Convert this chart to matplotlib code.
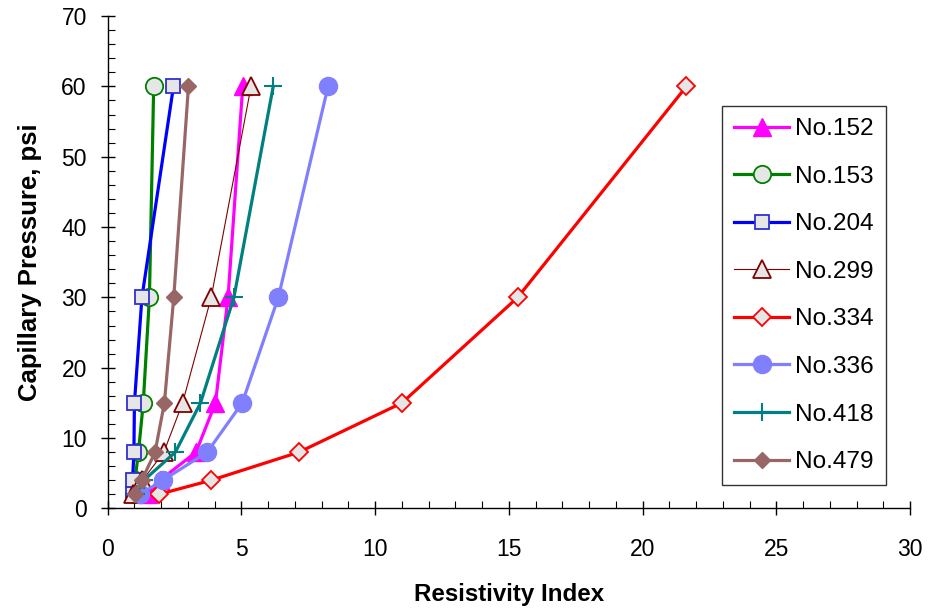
import matplotlib
matplotlib.use("Agg")
import matplotlib.pyplot as plt
from matplotlib.ticker import MultipleLocator

plt.rcParams['font.family'] = ['Liberation Sans', 'DejaVu Sans']

pc = [2, 4, 8, 15, 30, 60]
ri_152 = [1.5, 1.95, 3.3, 4.03, 4.5, 5.05]
ri_153 = [0.98, 1.02, 1.15, 1.33, 1.56, 1.72]
ri_204 = [0.93, 0.93, 0.98, 1.0, 1.28, 2.46]
ri_299 = [0.95, 1.3, 2.1, 2.8, 3.87, 5.36]
ri_334 = [1.9, 3.86, 7.15, 11.0, 15.33, 21.64]
ri_336 = [1.2, 2.06, 3.72, 5.03, 6.38, 8.24]
ri_418 = [1.05, 1.35, 2.53, 3.47, 4.72, 6.19]
ri_479 = [1.02, 1.27, 1.77, 2.12, 2.47, 3.02]

labels = ['No.152', 'No.153', 'No.204', 'No.299', 'No.334', 'No.336', 'No.418', 'No.479']
series = [ri_152, ri_153, ri_204, ri_299, ri_334, ri_336, ri_418, ri_479]

gray = '#E6E6E6'
styles = [
    dict(color='#FF00FF', lw=2.3, marker='^', ms=13, mfc='#FF00FF', mec='#FF00FF', mew=1.0),
    dict(color='#008000', lw=2.3, marker='o', ms=12.5, mfc=gray, mec='#008000', mew=1.3),
    dict(color='#0000FF', lw=2.3, marker='s', ms=10.3, mfc=gray, mec='#3030D0', mew=1.3),
    dict(color='#800000', lw=0.8, marker='^', ms=12.7, mfc=gray, mec='#800000', mew=1.3),
    dict(color='#FF0000', lw=2.3, marker='D', ms=9.5, mfc=gray, mec='#FF0000', mew=1.3),
    dict(color='#8080FF', lw=2.3, marker='o', ms=13, mfc='#8080FF', mec='#8080FF', mew=1.0),
    dict(color='#008080', lw=2.3, marker='+', ms=13, mfc='#008080', mec='#008080', mew=1.5),
    dict(color='#996666', lw=2.3, marker='D', ms=7.8, mfc='#996666', mec='#996666', mew=1.0),
]

fig = plt.figure(figsize=(9.30, 6.11), dpi=100)
ax = fig.add_axes([0.1158, 0.1678, 0.8627, 0.806])

for ri, lab, st in zip(series, labels, styles):
    ax.plot(ri, pc, label=lab, clip_on=False, **st)

ax.set_xlim(0, 30)
ax.set_ylim(0, 70)
ax.xaxis.set_major_locator(MultipleLocator(5))
ax.xaxis.set_minor_locator(MultipleLocator(1))
ax.yaxis.set_major_locator(MultipleLocator(10))
ax.yaxis.set_minor_locator(MultipleLocator(2))

for s in ['top', 'right']:
    ax.spines[s].set_visible(False)
for s in ['left', 'bottom']:
    ax.spines[s].set_linewidth(1.0)
    ax.spines[s].set_color('black')

ax.tick_params(which='major', direction='inout', length=10, width=1.0, labelsize=16.5)
ax.tick_params(axis='x', which='major', pad=16)
ax.tick_params(axis='y', which='major', pad=10)
ax.tick_params(which='minor', direction='in', length=5, width=0.8)

ax.set_xlabel('Resistivity Index', fontsize=17.4, fontweight='bold', labelpad=16)
ax.set_ylabel('Capillary Pressure, psi', fontsize=18.5, fontweight='bold', labelpad=14)

leg = ax.legend(loc='upper left', bbox_to_anchor=(722/930, 1 - 106/611), bbox_transform=fig.transFigure,
                fontsize=17.6, frameon=True, fancybox=False, shadow=False, borderpad=0.5,
                labelspacing=1.04, handlelength=2.25, handletextpad=0.25, borderaxespad=0)
leg.get_frame().set_edgecolor('black')
leg.get_frame().set_linewidth(1.0)

fig.savefig('out.png', dpi=100)
